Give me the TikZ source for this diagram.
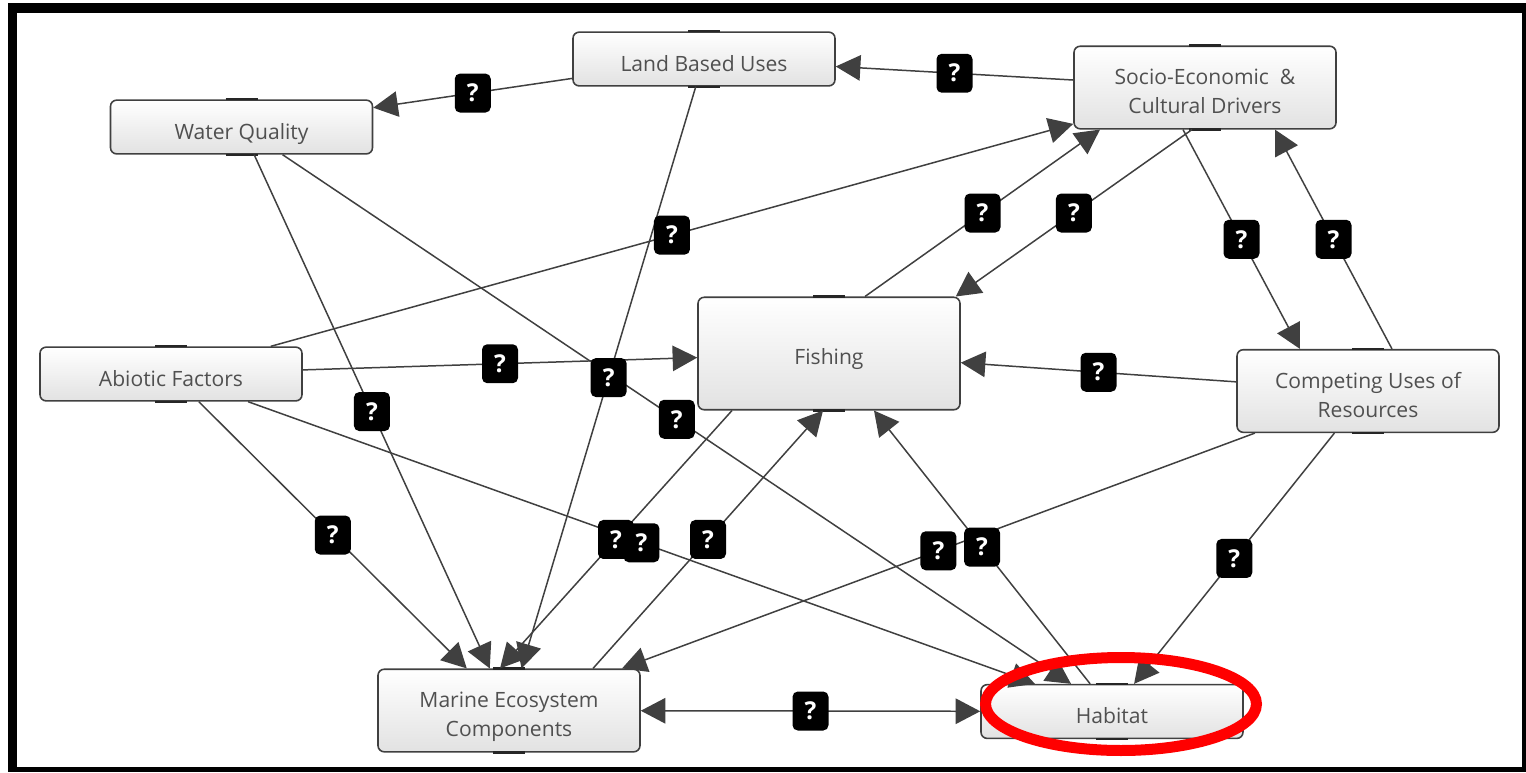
\documentclass[tikz,border=0pt]{standalone}
\usepackage{fontspec}
\setmainfont{Open Sans}
\usetikzlibrary{arrows.meta,calc}

\definecolor{linegray}{HTML}{404040}
\definecolor{textgray}{HTML}{505050}
\definecolor{boxgray}{HTML}{E2E2E2}
\definecolor{ringred}{HTML}{FF0000}

\begin{document}
\begin{tikzpicture}[x=0.02cm,y=-0.02cm,
  box/.style={draw=linegray, line width=0.9pt, rounded corners=3.5pt,
    top color=white, bottom color=boxgray, text=textgray,
    font=\fontsize{12}{16.5}\selectfont, align=center,
    minimum width=5.24cm, inner xsep=0pt, inner ysep=0pt,
    text height=22.4pt, text depth=8.2pt},
  tall/.style={text height=38.5pt, text depth=8.5pt},
  big/.style={text height=38.5pt, text depth=25.5pt},
  tab/.style={draw=black!85, line width=1.3pt},
  qmark/.style={fill=black, rounded corners=3pt, text=white,
    font=\bfseries\fontsize{14}{14}\selectfont,
    minimum width=0.72cm, minimum height=0.78cm, inner sep=0pt},
  link/.style={draw=linegray, line width=0.85pt,
    -{Triangle[length=14pt,width=14.5pt]}},
  twoway/.style={{Triangle[length=14pt,width=14.5pt]}-{Triangle[length=14pt,width=14.5pt]}}]

\useasboundingbox (0,0) rectangle (1526,772);

% frame
\fill[black] (8,3) rectangle (1526,772);
\fill[white] (17,13) rectangle (1522,767);

\node[box] (lbu) at (704,59) {Land Based Uses};
\node[box] (wq) at (241.5,127) {Water Quality};
\node[box,tall] (socio) at (1205,87.5) {Socio-Economic\ \ \&\\Cultural Drivers};
\node[box] (abio) at (171,374) {Abiotic Factors};
\node[box,big] (fish) at (829,353.5) {Fishing};
\node[box,tall] (comp) at (1368,391) {Competing Uses of\\Resources};
\node[box,tall] (mec) at (509,710.5) {Marine Ecosystem\\Components};
\node[box] (hab) at (1112,711.5) {Habitat};

% handles on the boxes
\foreach \n in {lbu,wq,socio,abio,fish,comp,mec,hab} {
  \draw[tab] ($(\n.north)+(-16,0)$) -- ($(\n.north)+(16,0)$);
  \draw[tab] ($(\n.south)+(-16,0)$) -- ($(\n.south)+(16,0)$);
}

% links
\draw[link] (socio) -- coordinate (q1) (lbu);
\draw[link] (lbu) -- coordinate (q2) (wq);
\draw[link] (lbu) -- coordinate (q3) (mec);
\draw[link] (wq) -- coordinate (q4) (mec);
\draw[link] (wq) -- coordinate (q5) (hab);
\draw[link] (abio) -- coordinate (q6) (socio);
\draw[link] (abio) -- coordinate (q7) (fish);
\draw[link] (abio) -- coordinate (q8) (mec);
\draw[link] ($(fish.south)+(-97,0)$) -- coordinate (q9) ($(mec.north)+(-9,0)$);
\draw[link] (abio) -- coordinate (q10) (hab);
\draw[link] ($(mec.north)+(84,0)$) -- coordinate (q11) ($(fish.south)+(-6,0)$);
\draw[link] ($(fish.north)+(36,0)$) -- coordinate (q12) ($(socio.south)+(-105,0)$);
\draw[link] ($(socio.south)+(-13,0)$) -- coordinate (q13) ($(fish.north east)+(-5,0)$);
\draw[link] ($(socio.south)+(-22,0)$) -- coordinate (q14) ($(comp.north)+(-68,0)$);
\draw[link] ($(comp.north)+(24,0)$) -- coordinate (q15) ($(socio.south)+(70,0)$);
\draw[link] (comp) -- coordinate (q16) (fish);
\draw[link] (comp) -- coordinate (q17) (mec);
\draw[link] (comp) -- coordinate (q18) (hab);
\draw[link] (hab) -- coordinate (q19) (fish);
\draw[link,twoway] (mec) -- coordinate (q20) (hab);

% question marks
\foreach \i in {1,...,20}
  \node[qmark] at (q\i) {?};

% highlight
\draw[ringred, line width=0.22cm] (1121,704) ellipse [x radius=2.71cm, y radius=0.93cm];

\end{tikzpicture}
\end{document}
